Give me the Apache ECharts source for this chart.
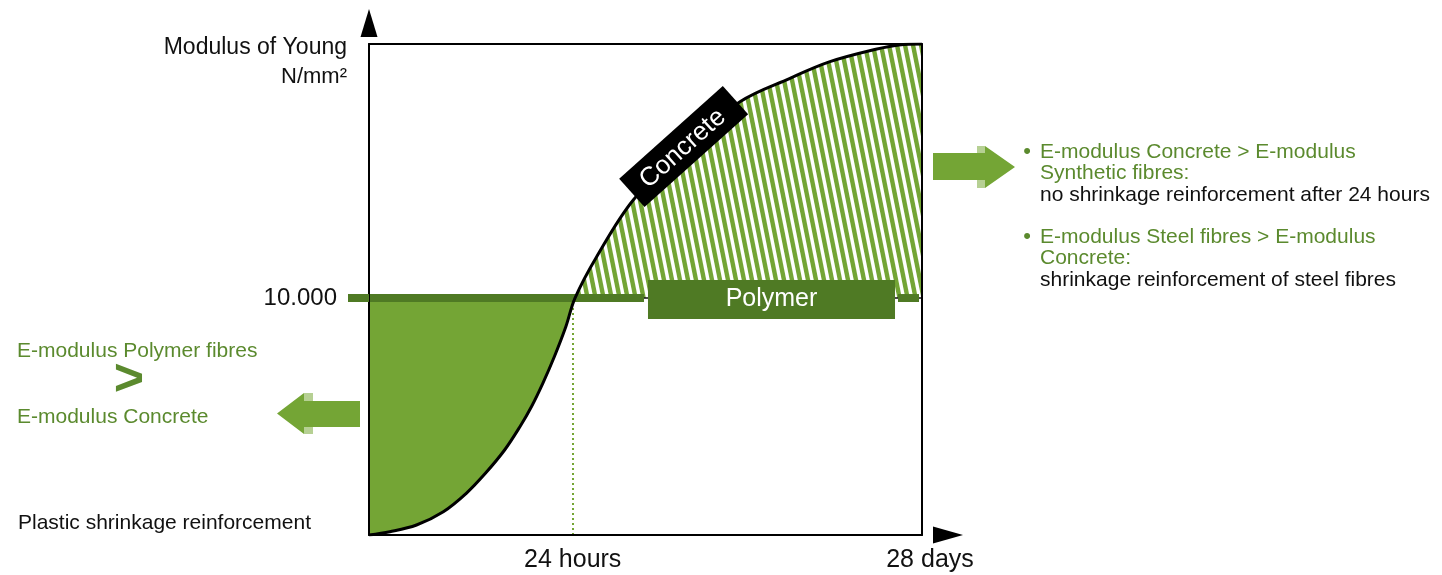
<!DOCTYPE html>
<html>
<head>
<meta charset="utf-8">
<script src="https://cdn.jsdelivr.net/npm/echarts@6.0.0/dist/echarts.min.js"></script>
<style>
html,body{margin:0;padding:0;background:#fff;}
#chart{width:1442px;height:575px;}
</style>
</head>
<body>
<div id="chart"></div>
<script>
// ---- data ----
const curveX = [0, 3.76, 8.59, 13.44, 17.59, 21.05, 24.52, 27.29, 29.37, 31.43, 33.51, 35.59, 37.25, 41.17, 47.79, 57.5, 67.09, 76.13, 83.36, 91.65, 95.84, 100];
const curveY = [0, 139, 422, 983, 1760, 2604, 3587, 4570, 5414, 6402, 7524, 8790, 10000, 11744, 14137, 16418, 18285, 19273, 19973, 20496, 20678, 20720];
const crossIndex = 12;           // point where the concrete curve meets the polymer level
const polymerLevel = 10000;
const hours24 = 36.84;
const xTickValues = [36.84, 100];
const xTickLabels = ['24 hours', '28 days'];
const yTickValues = [10000];
const yTickLabels = ['10.000'];
const polymerSegStart = [0, 95.66];
const polymerSegEnd = [49.73, 99.46];
const polymerBoxX = [50.45, 95.12];
const polymerBoxY = [9115, 10761];
const polymerName = 'Polymer';
const concreteLabelAt = [56.9, 16395];
const concreteName = 'Concrete';
const xMax = 100, yMax = 20720;

// ---- styles ----
const FONT = '"Liberation Sans", Arial, Helvetica, sans-serif';
const fillGreen = '#74a535';
const darkGreen = '#4f7a24';
const textGreen = '#5b8a2e';
const lightGreen = '#b6d093';

function makeHatch() {
  const W = 16, H = 80, P = 8;
  const c = document.createElement('canvas');
  c.width = W; c.height = H;
  const g = c.getContext('2d');
  g.fillStyle = '#ffffff';
  g.fillRect(0, 0, W, H);
  g.strokeStyle = fillGreen;
  g.lineWidth = 4.4;
  for (let k = -4; k <= 4; k++) {
    const x0 = k * P;
    g.beginPath();
    g.moveTo(x0 - W * 0.5, -H * 0.5);
    g.lineTo(x0 + W * 1.5, H * 1.5);
    g.stroke();
  }
  return c;
}

const curve = curveX.map((x, i) => [x, curveY[i]]);
const curveLeft = curve.slice(0, crossIndex + 1);
const curveRight = curve.slice(crossIndex);
const xc = curveX[crossIndex];

const SM = 0.35;
const series = [
  { // green block under the polymer level, left of crossing
    type: 'line', data: [[0, polymerLevel], [xc, polymerLevel]], symbol: 'none',
    lineStyle: { width: 0 }, areaStyle: { color: fillGreen, opacity: 1 }, z: 1, silent: true
  },
  { // hatched zone under concrete curve, right of crossing
    type: 'line', data: curveRight, smooth: SM, symbol: 'none',
    lineStyle: { width: 0 }, areaStyle: { color: { image: makeHatch(), repeat: 'repeat' }, opacity: 1 }, z: 1, silent: true
  },
  { // white under curve on left
    type: 'line', data: curveLeft, smooth: SM, symbol: 'none',
    lineStyle: { width: 0 }, areaStyle: { color: '#fff', opacity: 1 }, z: 2, silent: true
  },
  { // white under polymer level on right
    type: 'line', data: [[xc, polymerLevel], [xMax, polymerLevel]], symbol: 'none',
    lineStyle: { width: 0 }, areaStyle: { color: '#fff', opacity: 1 }, z: 2, silent: true
  },
  { // thin black base line of hatch zone
    type: 'line', data: [[xc, polymerLevel], [xMax, polymerLevel]], symbol: 'none',
    lineStyle: { width: 1.5, color: '#111' }, z: 3, silent: true
  }
];
polymerSegStart.forEach((s, i) => {
  series.push({
    type: 'line', data: [[s, polymerLevel], [polymerSegEnd[i], polymerLevel]], symbol: 'none',
    lineStyle: { width: 8, color: darkGreen, cap: 'butt' }, z: 6, silent: true
  });
});
series.push({ // polymer box
  type: 'custom', z: 7, silent: true, clip: false,
  data: [[polymerBoxX[0], polymerBoxY[1], polymerBoxX[1], polymerBoxY[0]]],
  encode: { x: [0, 2], y: [1, 3] },
  renderItem: function (params, api) {
    const p0 = api.coord([api.value(0), api.value(1)]);
    const p1 = api.coord([api.value(2), api.value(3)]);
    return {
      type: 'group', children: [
        { type: 'rect', shape: { x: p0[0], y: p0[1], width: p1[0] - p0[0], height: p1[1] - p0[1] }, style: { fill: darkGreen } },
        { type: 'text', style: { text: polymerName, x: (p0[0] + p1[0]) / 2, y: (p0[1] + p1[1]) / 2, align: 'center', verticalAlign: 'middle', fill: '#fff', font: '25px ' + FONT } }
      ]
    };
  }
});
series.push({ // concrete curve
  type: 'line', data: curve, smooth: SM, symbol: 'none',
  lineStyle: { width: 3, color: '#000' }, z: 8, silent: true,
  markLine: {
    silent: true, symbol: 'none', animation: false,
    lineStyle: { type: [2, 3], color: fillGreen, width: 2 },
    label: { show: false },
    data: [[{ coord: [hours24, 0] }, { coord: [hours24, polymerLevel] }]]
  }
});
series.push({ // concrete label
  type: 'custom', z: 9, silent: true, clip: false,
  data: [concreteLabelAt],
  renderItem: function (params, api) {
    const c = api.coord([api.value(0), api.value(1)]);
    return {
      type: 'group', x: c[0], y: c[1], rotation: 41.8 * Math.PI / 180,
      children: [
        { type: 'rect', shape: { x: -69.5, y: -19, width: 139, height: 38 }, style: { fill: '#000' } },
        { type: 'text', style: { text: concreteName, x: -2, y: 1, align: 'center', verticalAlign: 'middle', fill: '#fff', font: '26px ' + FONT } }
      ]
    };
  }
});

function txt(x, y, text, color, size, align, weight) {
  return {
    type: 'text', x: x, y: y, silent: true, z: 20,
    style: {
      text: text, fill: color, font: (weight || 'normal') + ' ' + size + 'px ' + FONT,
      align: align || 'left', verticalAlign: 'middle',
      textAlign: align || 'left', textVerticalAlign: 'middle'
    }
  };
}

const graphic = [
  txt(347, 48, 'Modulus of Young', '#111', 23, 'right'),
  txt(347, 77, 'N/mm²', '#111', 22, 'right'),
  // right notes
  txt(1027, 152, '•', textGreen, 22, 'center'),
  txt(1040, 152, 'E-modulus Concrete > E-modulus', textGreen, 21),
  txt(1040, 173.5, 'Synthetic fibres:', textGreen, 21),
  txt(1040, 195, 'no shrinkage reinforcement after 24 hours', '#111', 21),
  txt(1027, 237, '•', textGreen, 22, 'center'),
  txt(1040, 237, 'E-modulus Steel fibres > E-modulus', textGreen, 21),
  txt(1040, 258.5, 'Concrete:', textGreen, 21),
  txt(1040, 280, 'shrinkage reinforcement of steel fibres', '#111', 21),
  // left notes
  txt(17, 351, 'E-modulus Polymer fibres', textGreen, 21),
  txt(129, 381, '>', textGreen, 52, 'center', 'bold'),
  txt(17, 417, 'E-modulus Concrete', textGreen, 21),
  txt(18, 523, 'Plastic shrinkage reinforcement', '#111', 21),
  // right arrow
  { type: 'polygon', silent: true, shape: { points: [[933, 153], [985, 153], [985, 146], [1015, 167], [985, 188], [985, 180], [933, 180]] }, style: { fill: fillGreen } },
  { type: 'rect', silent: true, shape: { x: 977, y: 146, width: 8, height: 7 }, style: { fill: lightGreen } },
  { type: 'rect', silent: true, shape: { x: 977, y: 180, width: 8, height: 8 }, style: { fill: lightGreen } },
  // left arrow
  { type: 'polygon', silent: true, shape: { points: [[360, 401], [304, 401], [304, 393], [277, 413.5], [304, 434], [304, 427], [360, 427]] }, style: { fill: fillGreen } },
  { type: 'rect', silent: true, shape: { x: 304, y: 393, width: 9, height: 8 }, style: { fill: lightGreen } },
  { type: 'rect', silent: true, shape: { x: 304, y: 427, width: 9, height: 7 }, style: { fill: lightGreen } }
];

const chart = echarts.init(document.getElementById('chart'), null, { renderer: 'canvas' });
chart.setOption({
  animation: false,
  backgroundColor: '#fff',
  textStyle: { fontFamily: FONT },
  grid: { left: 369, top: 44, width: 553, height: 491, show: false },
  xAxis: [{
    type: 'value', min: 0, max: xMax, position: 'bottom', z: 10,
    axisLine: { show: true, onZero: false, lineStyle: { color: '#000', width: 2 }, symbol: ['none', 'triangle'], symbolSize: [17, 30], symbolOffset: [0, 26] },
    axisTick: { show: false },
    splitLine: { show: false },
    axisLabel: {
      customValues: xTickValues, margin: 13, color: '#111', fontSize: 25, fontFamily: FONT,
      formatter: function (v) {
        const i = xTickValues.indexOf(v);
        if (i < 0) return '';
        return i === xTickValues.length - 1 ? '{r|' + xTickLabels[i] + '}' : xTickLabels[i];
      },
      rich: { r: { fontSize: 25, color: '#111', fontFamily: FONT, padding: [0, 0, 0, 16] } }
    }
  }, {
    type: 'value', min: 0, max: xMax, position: 'top', z: 10,
    axisLine: { show: true, onZero: false, lineStyle: { color: '#000', width: 2 } },
    axisTick: { show: false }, axisLabel: { show: false }, splitLine: { show: false }
  }],
  yAxis: [{
    type: 'value', min: 0, max: yMax, position: 'left', z: 10,
    axisLine: { show: true, onZero: false, lineStyle: { color: '#000', width: 2 }, symbol: ['none', 'triangle'], symbolSize: [17, 28], symbolOffset: [0, 21] },
    axisTick: { show: true, customValues: yTickValues, length: 21, lineStyle: { color: darkGreen, width: 8 } },
    splitLine: { show: false },
    axisLabel: {
      customValues: yTickValues, margin: 32, color: '#111', fontSize: 24, fontFamily: FONT,
      formatter: function (v) { const i = yTickValues.indexOf(v); return i < 0 ? '' : yTickLabels[i]; }
    }
  }, {
    type: 'value', min: 0, max: yMax, position: 'right', z: 10,
    axisLine: { show: true, onZero: false, lineStyle: { color: '#000', width: 2 } },
    axisTick: { show: false }, axisLabel: { show: false }, splitLine: { show: false }
  }],
  series: series,
  graphic: graphic
});
</script>
</body>
</html>
